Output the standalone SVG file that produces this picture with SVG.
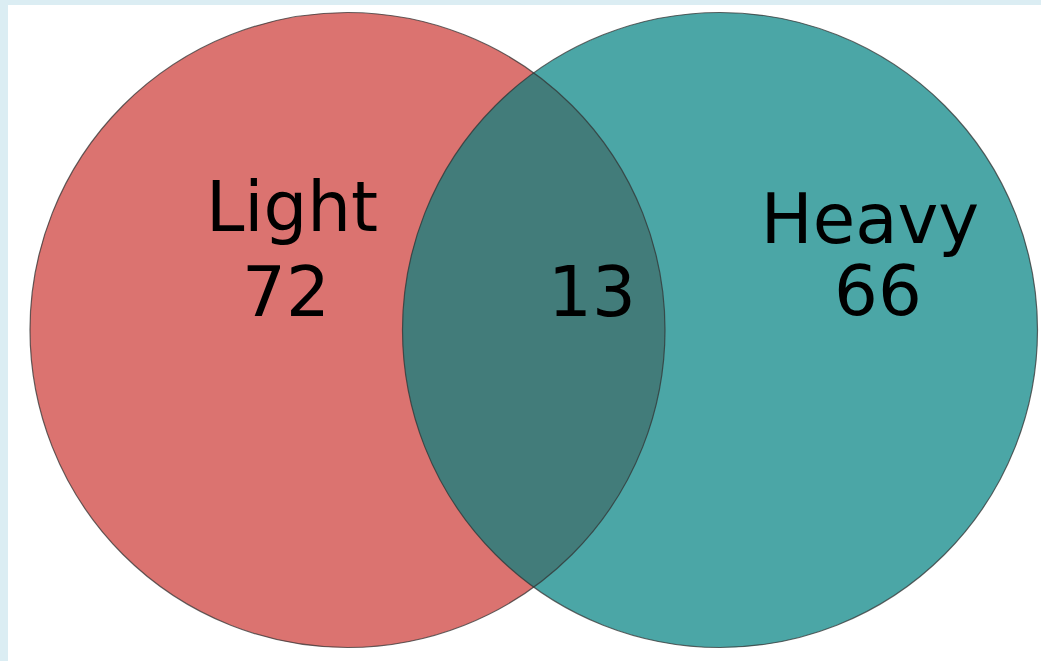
<svg xmlns="http://www.w3.org/2000/svg" width="1041" height="661" viewBox="0 0 1041 661">
  <style>
    .lbl { font-family: "DejaVu Sans", sans-serif; font-size: 69px; fill: #000000; text-anchor: middle; }
    .edge { fill: none; stroke: #333333; stroke-opacity: 0.75; stroke-width: 1.2; }
  </style>
  <defs>
    <clipPath id="clipLeft">
      <circle cx="347.5" cy="330" r="317.5"/>
    </clipPath>
  </defs>
  <rect x="0" y="0" width="1041" height="661" fill="#dbedf3"/>
  <rect x="8" y="5" width="1033" height="656" fill="#ffffff"/>
  <g id="set-light">
    <circle cx="347.5" cy="330" r="317.5" fill="#db7370"/>
  </g>
  <g id="set-heavy">
    <circle cx="720" cy="330" r="317.5" fill="#4ba6a6"/>
  </g>
  <g id="intersection">
    <circle cx="720" cy="330" r="317.5" fill="#427c7a" clip-path="url(#clipLeft)"/>
  </g>
  <g id="outlines">
    <circle class="edge" cx="347.5" cy="330" r="317.5"/>
    <circle class="edge" cx="720" cy="330" r="317.5"/>
  </g>
  <g id="labels">
    <text class="lbl" x="292" y="231">Light</text>
    <text class="lbl" x="286" y="316">72</text>
    <text class="lbl" x="592" y="316">13</text>
    <text class="lbl" x="870" y="243">Heavy</text>
    <text class="lbl" x="878" y="315">66</text>
  </g>
</svg>
